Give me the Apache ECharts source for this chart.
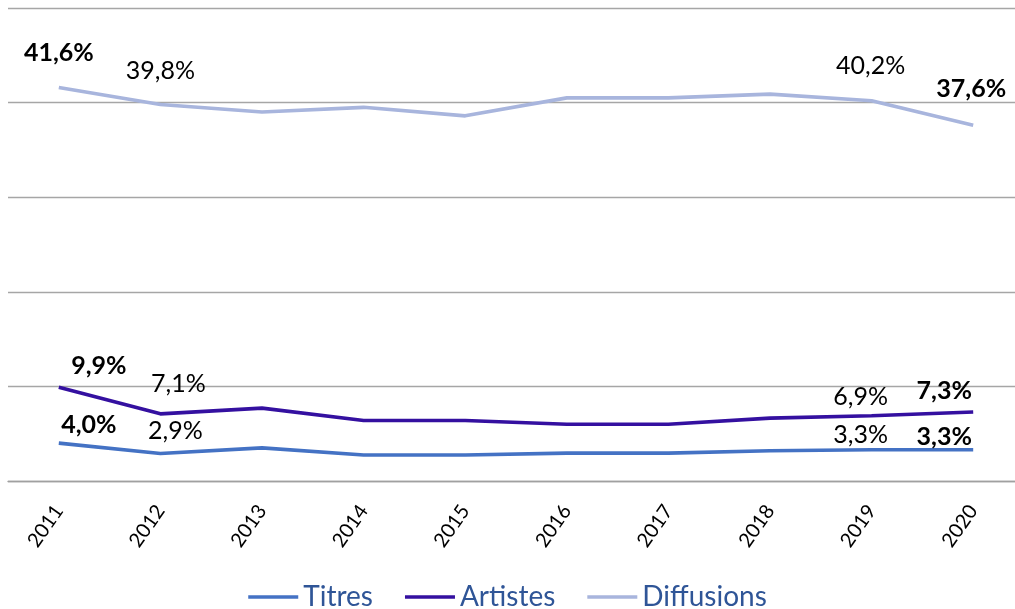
<!DOCTYPE html>
<html>
<head>
<meta charset="utf-8">
<script src="https://cdn.jsdelivr.net/npm/echarts@6/dist/echarts.min.js"></script>
<style>
html,body{margin:0;padding:0;background:#fff;}
#chart{width:1015px;height:609px;}
</style>
</head>
<body>
<div id="chart"></div>
<script>
// ---- Data ----
var years = ['2011','2012','2013','2014','2015','2016','2017','2018','2019','2020'];
var titres = [4.0, 2.9, 3.5, 2.75, 2.75, 2.95, 2.95, 3.2, 3.3, 3.3];
var artistes = [9.9, 7.1, 7.7, 6.4, 6.4, 6.0, 6.0, 6.65, 6.9, 7.3];
var diffusions = [41.6, 39.8, 39.0, 39.5, 38.6, 40.5, 40.5, 40.9, 40.2, 37.6];
var seriesNames = ['Titres', 'Artistes', 'Diffusions'];
var yTicks = [0, 10, 20, 30, 40, 50];

// ---- Styling (labels shown on selected points, offsets in px) ----
var colors = ['#4472C4', '#3410A0', '#A8B5DD'];
var labelStyle = {
  Titres:     {0: {b: true, o: [30, -5]}, 1: {b: false, o: [15, -10]}, 8: {b: false, o: [-11, -2]}, 9: {b: true, o: [-29, 0]}},
  Artistes:   {0: {b: true, o: [40, -8]}, 1: {b: false, o: [18, -17]}, 8: {b: false, o: [-11, -6]}, 9: {b: true, o: [-29, -8]}},
  Diffusions: {0: {b: true, o: [0, -22]}, 1: {b: false, o: [0, -21]}, 8: {b: false, o: [-1, -22]}, 9: {b: true, o: [-2, -23]}}
};
var FONT = 'Lato, "Open Sans", sans-serif';

function fmt(v) { return v.toFixed(1).replace('.', ',') + '%'; }

function buildSeries(name, values, color) {
  var ls = labelStyle[name];
  return {
    name: name,
    type: 'line',
    symbol: 'circle',
    symbolSize: 0,
    showSymbol: true,
    lineStyle: {color: color, width: 3.6},
    itemStyle: {color: color},
    label: {show: false},
    z: 3,
    data: values.map(function (v, i) {
      if (!ls[i]) return v;
      return {
        value: v,
        label: {
          show: true,
          position: 'top',
          distance: 0,
          offset: ls[i].o,
          formatter: fmt(v),
          fontFamily: FONT,
          fontSize: 25,
          lineHeight: 26,
          fontWeight: ls[i].b ? 'bold' : 'normal',
          color: '#000'
        }
      };
    })
  };
}

var chart = echarts.init(document.getElementById('chart'), null, {renderer: 'canvas'});
chart.setOption({
  animation: false,
  backgroundColor: '#fff',
  grid: {left: 8, top: 8, width: 1016, bottom: 128, containLabel: false, outerBoundsMode: 'none'},
  legend: {
    left: 'center',
    top: 578,
    data: seriesNames,
    icon: 'rect',
    itemWidth: 50,
    itemHeight: 3.5,
    itemGap: 32,
    textStyle: {fontFamily: FONT, fontSize: 28, color: '#2F5597'}
  },
  xAxis: {
    type: 'category',
    data: years,
    boundaryGap: true,
    axisLine: {show: true, lineStyle: {color: '#A0A0A0', width: 1.3}},
    axisTick: {show: false},
    axisLabel: {rotate: 55, margin: 26, fontFamily: FONT, fontSize: 20, color: '#000', interval: 0}
  },
  yAxis: {
    type: 'value',
    min: yTicks[0],
    max: yTicks[yTicks.length - 1],
    interval: 10,
    axisLine: {show: false},
    axisTick: {show: false},
    axisLabel: {show: false},
    splitLine: {show: true, lineStyle: {color: '#A6A6A6', width: 1.3}}
  },
  series: [
    buildSeries('Titres', titres, colors[0]),
    buildSeries('Artistes', artistes, colors[1]),
    buildSeries('Diffusions', diffusions, colors[2])
  ]
});
</script>
</body>
</html>
